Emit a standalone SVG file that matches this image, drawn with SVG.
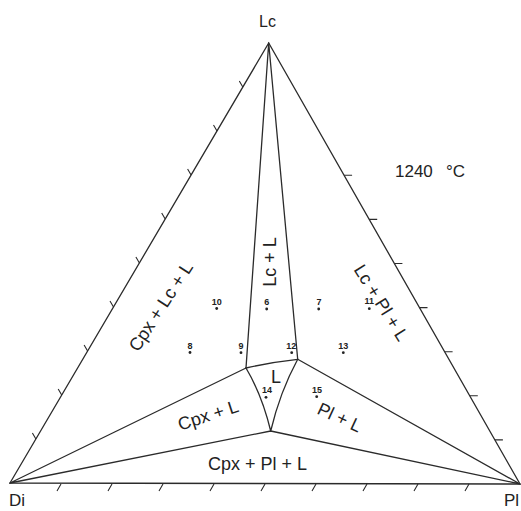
<svg xmlns="http://www.w3.org/2000/svg" width="521" height="511" viewBox="0 0 521 511">
<style>
.ln{fill:none;stroke:#2b2b2b;stroke-width:1.3;stroke-linecap:round}
.tk{fill:none;stroke:#2b2b2b;stroke-width:1.1}
.lbl{font-family:"Liberation Sans",Arial,sans-serif;font-size:18px;fill:#222}
.num{font-family:"Liberation Sans",Arial,sans-serif;font-size:9px;font-weight:bold;fill:#222;text-anchor:middle}
.dot{fill:#222}
</style>
<rect width="521" height="511" fill="#fff"/>
<g id="connectors">
<path class="ln" d="M10,483 L268.7,43 L520,484 Z"/>
<path class="ln" d="M268.7,43 L246,368 M268.7,43 L297.7,359.3"/>
<path class="ln" d="M246,368 Q272,362 297.7,359.3"/>
<path class="ln" d="M246,368 Q262,395 270.7,431 M297.7,359.3 Q280,392 270.7,431"/>
<path class="ln" d="M10,483 L246,368 M10,483 L270.7,431 M520,484 L297.7,359.3 M520,484 L270.7,431"/>
</g>
<g id="ticks" class="tk">
<path d="M35.9,439 l-3.5,-6 M61.7,395 l-3.5,-6 M87.6,351 l-3.5,-6 M113.5,307 l-3.5,-6 M139.4,263 l-3.5,-6 M165.2,219 l-3.5,-6 M191.1,175 l-3.5,-6 M217,131 l-3.5,-6 M242.8,87 l-3.5,-6"/>
<path d="M344.1,175.3 h8 M369.2,219.4 h8 M394.4,263.5 h8 M419.5,307.6 h8 M444.6,351.7 h8 M469.8,395.8 h8 M494.9,439.9 h8"/>
<path d="M61,484 l-4,7 M112,484 l-4,7 M163,484 l-4,7 M214,484 l-4,7 M265,484 l-4,7 M316,484 l-4,7 M367,484 l-4,7 M418,484 l-4,7 M469,484 l-4,7"/>
</g>
<g id="vertex-Lc"><text class="lbl" x="267.5" y="27" text-anchor="middle" style="font-size:16px">Lc</text></g>
<g id="vertex-Di"><text class="lbl" x="9" y="506" style="font-size:17px">Di</text></g>
<g id="vertex-Pl"><text class="lbl" x="519" y="506" text-anchor="end" style="font-size:17px">Pl</text></g>
<g id="temp"><text class="lbl" x="395" y="177" style="font-size:17px">1240 <tspan x="446">°C</tspan></text></g>
<g id="field-cpx-lc-l"><text class="lbl" text-anchor="middle" transform="translate(166,310) rotate(-57)">Cpx + Lc + L</text></g>
<g id="field-lc-l"><text class="lbl" text-anchor="middle" transform="translate(276,262) rotate(-90)">Lc + L</text></g>
<g id="field-lc-pl-l"><text class="lbl" text-anchor="middle" transform="translate(376,306) rotate(58)">Lc + Pl + L</text></g>
<g id="field-l"><text class="lbl" x="276" y="383" text-anchor="middle">L</text></g>
<g id="field-cpx-l"><text class="lbl" text-anchor="middle" transform="translate(210,421) rotate(-18)">Cpx + L</text></g>
<g id="field-pl-l"><text class="lbl" text-anchor="middle" transform="translate(337,423) rotate(25)">Pl + L</text></g>
<g id="field-cpx-pl-l"><text class="lbl" x="257.5" y="470" text-anchor="middle">Cpx + Pl + L</text></g>
<g id="pt10"><text class="num" x="216.7" y="305">10</text><circle class="dot" cx="216.7" cy="308.5" r="1.4"/></g>
<g id="pt6"><text class="num" x="266.7" y="305">6</text><circle class="dot" cx="266.7" cy="309" r="1.4"/></g>
<g id="pt7"><text class="num" x="319" y="305">7</text><circle class="dot" cx="318.7" cy="309" r="1.4"/></g>
<g id="pt11"><text class="num" x="369.3" y="304">11</text><circle class="dot" cx="369.3" cy="308.7" r="1.4"/></g>
<g id="pt8"><text class="num" x="190" y="348.5">8</text><circle class="dot" cx="190" cy="352.5" r="1.4"/></g>
<g id="pt9"><text class="num" x="241" y="348.5">9</text><circle class="dot" cx="241" cy="352.7" r="1.4"/></g>
<g id="pt12"><text class="num" x="291.3" y="349">12</text><circle class="dot" cx="291.7" cy="352.7" r="1.4"/></g>
<g id="pt13"><text class="num" x="343.3" y="349">13</text><circle class="dot" cx="343.3" cy="352.7" r="1.4"/></g>
<g id="pt14"><text class="num" x="267" y="392.7">14</text><circle class="dot" cx="266" cy="397.3" r="1.4"/></g>
<g id="pt15"><text class="num" x="317" y="392.7">15</text><circle class="dot" cx="316.7" cy="396.7" r="1.4"/></g>
</svg>
